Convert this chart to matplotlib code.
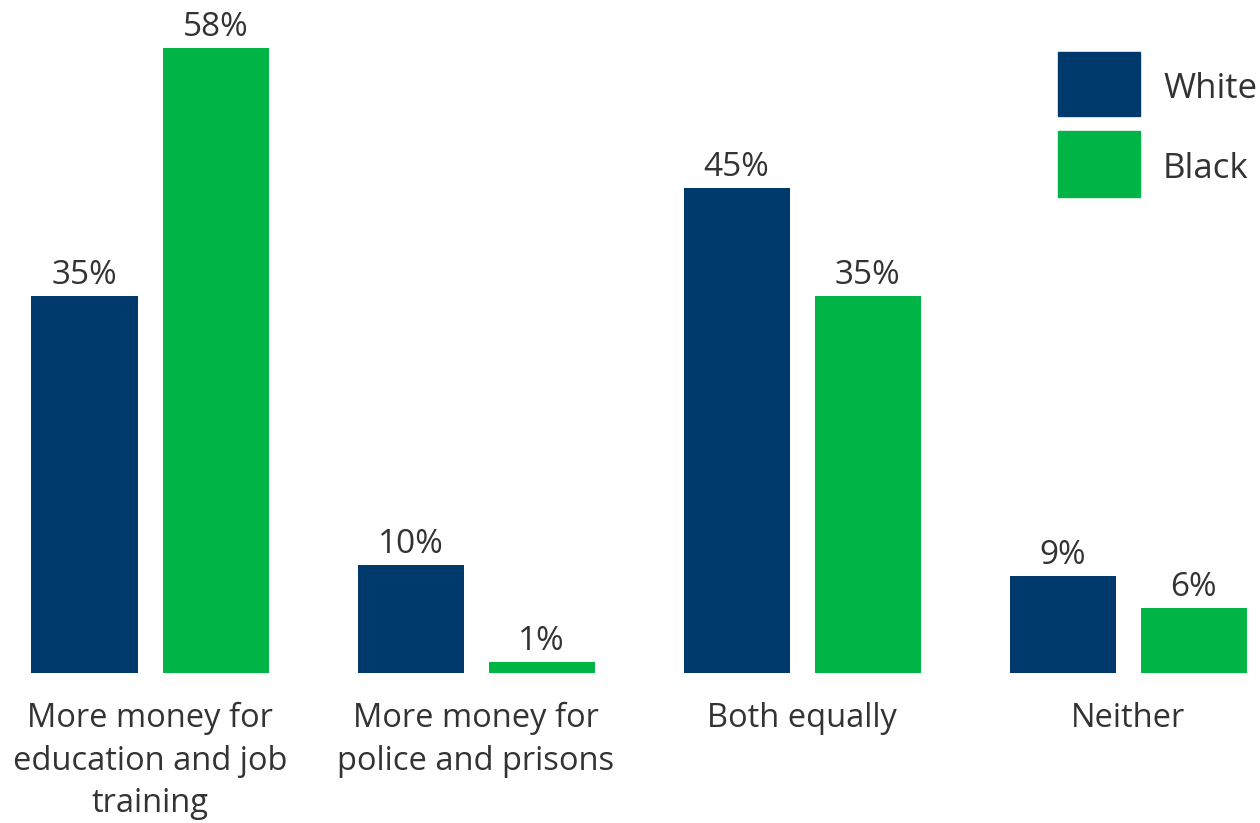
import matplotlib.pyplot as plt
import numpy as np

categories = ["More money for\neducation and job\ntraining", "More money for\npolice and prisons", "Both equally", "Neither"]
white = [35, 10, 45, 9]
black = [58, 1, 35, 6]
series_names = ["White", "Black"]

NAVY = "#003A6D"
GREEN = "#00B445"
TXT = "#333333"
FONT = ["Open Sans", "DejaVu Sans"]
plt.rcParams['font.family'] = FONT

W, H = 1260, 823
fig = plt.figure(figsize=(W/100, H/100), dpi=100)
base_px = 673
ax = fig.add_axes([0, (H-base_px)/H, 1, base_px/H])
ppu = 326.0
ax.set_xlim(-150/ppu, (W-150)/ppu)
ax.set_ylim(0, base_px/10.78)
ax.axis('off')

x = np.arange(len(categories))
bw = 106/ppu
off = 131/ppu/2
b1 = ax.bar(x-off, white, bw, color=NAVY)
b2 = ax.bar(x+off, black, bw, color=GREEN)
for bars, vals in ((b1, white), (b2, black)):
    for r, v in zip(bars, vals):
        ax.annotate(f"{v}%", (r.get_x()+r.get_width()/2, v), xytext=(0, 3),
                    textcoords='offset points', ha='center', va='bottom',
                    fontsize=24, color=TXT)
for xi, c in zip(x, categories):
    ax.annotate(c, (xi, 0), xytext=(0, -21), textcoords='offset points',
                ha='center', va='top', fontsize=23.5, color=TXT, linespacing=1.37)

# legend
lax = fig.add_axes([0, 0, 1, 1])
lax.set_xlim(0, W); lax.set_ylim(H, 0); lax.axis('off')
for (y0, y1), col, name in (((52, 116), NAVY, series_names[0]), ((131, 197), GREEN, series_names[1])):
    lax.add_patch(plt.Rectangle((1058, y0), 82, y1-y0, color=col))
    lax.text(1163, (y0+y1)/2 + 5, name, ha='left', va='center', fontsize=25, color=TXT)

fig.savefig("out.png", dpi=100)
